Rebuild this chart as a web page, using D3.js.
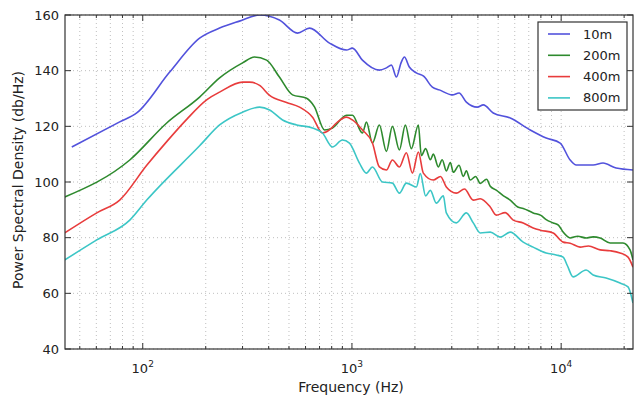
<!DOCTYPE html>
<html><head><meta charset="utf-8">
<script src="https://cdn.jsdelivr.net/npm/d3@7"></script>
<style>body{margin:0;background:#fff}svg{display:block}text{font-family:"DejaVu Sans",sans-serif;fill:#222}</style>
</head><body>
<svg id="c" width="634" height="399"></svg>
<script>
const seriesNames = ["10m","200m","400m","800m"];
const seriesColors = ["#5252dc","#2e8a2e","#e83c3c","#3cc6c6"];

const freq10m = [45.8,77.6,93.6,134.5,187,233,290,362,450,549,627,781,942,1005,1122,1352,1461,1544,1631,1720,1781,1880,2031,2200,2423,2616,3020,3250,3522,3975,4247,4735,5710,7115,8480,9890,11040,11800,14220,15860,18320,22050];
const psd10m  = [112.6,121.6,124.8,139.5,151.7,155.3,157.8,160,158.2,153.5,155.3,149.9,147.4,148.1,143.8,140.2,141,142,137.7,143,144.9,141.3,139.2,138,134.1,133.1,131.3,132,128.7,126.9,127.7,124.8,123,118.7,115.8,114,107.9,106.1,106.1,106.8,105,104.3];

const freq200m = [42.4,86.7,130.2,187,233,300,342,391,450,520,607,662,739,807,942,1005,1122,1173,1253,1352,1461,1561,1686,1800,1923,2077,2146,2250,2370,2449,2588,2700,2826,2953,3051,3250,3406,3522,3678,3900,4106,4400,4583,4895,5300,5710,6200,6585,7350,8000,8480,9158,9700,10220,11040,12000,13160,14220,15360,17140,19760,21350,22050];
const psd200m  = [94.6,107.9,121.2,130.5,137.4,142.8,144.9,143.8,137.7,131.3,130.1,127,118.7,119.4,124,124,117.6,121.5,114,120.5,111,120,111.5,120.5,112,120.5,109.5,112,108,110,105.4,108,104,107,103.5,106,102,104,100.7,102,99.5,101,98.5,97.1,95,93.5,91,90.5,88.9,88,86.5,85.3,84.5,82,79.9,80.5,79.9,80.3,79.9,78.1,78.1,75.6,72];

const freq400m = [42.4,60.3,77.6,104.5,130.2,162.2,202,233,300,324,362,404,487,562,648,723,781,843,942,1005,1122,1253,1352,1461,1561,1686,1820,1945,2077,2194,2449,2650,2826,3153,3450,3801,4106,4583,4895,5400,5901,6585,7350,7940,9158,10220,11040,12320,13500,15360,17140,19120,20880,22050];
const psd400m  = [81.7,88.9,93.5,106,114.5,122.5,129.5,132.3,135.9,135.9,134.7,131.1,128.6,126.9,123.3,117.6,118.7,121.2,123.3,122.3,118.7,114,105.4,104.3,107.9,105.4,110.5,103.2,110.8,103.2,100.7,102,98.2,96,97.5,93.5,94,91,88.1,89,86.3,85.3,83.5,82.7,81.7,78.4,78,76.6,77,75.6,75.3,74.5,73,69.4];

const freq800m = [42.4,60.3,86.7,104.5,187,233,300,362,404,466,544,648,723,807,901,973,1086,1173,1253,1398,1561,1686,1820,2031,2123,2250,2370,2531,2734,2826,3153,3522,3801,4106,4583,5115,5710,6585,7350,8480,9465,10220,10700,11410,13160,14220,16400,19120,20880,22050];
const psd800m  = [72,79.2,86.3,93.5,113,120.5,125.1,126.9,125.9,122.3,120.5,119.4,117.6,112.6,115.1,114,106.8,103.2,105.4,100,99.6,96,99.6,98.2,103,95,97,92.4,95,88.9,85.3,88.9,85.3,81.7,82,80.2,82,78.4,76.6,74.5,73.8,73,70,65.9,68.4,66.6,65.5,63.7,62.3,56.5];

const yTicks = [40,60,80,100,120,140,160];
const xMajor = [100,1000,10000];
const xMajorLabels = [["10","2"],["10","3"],["10","4"]];
const xDomain = [42.5,22050];
const yDomain = [40,160];

const svg = d3.select("#c");
const m = {l:65, r:633, t:15, b:349};
const x = d3.scaleLog().domain(xDomain).range([m.l, m.r]);
const y = d3.scaleLinear().domain(yDomain).range([m.b, m.t]);

const minor = [];
[10,100,1000,10000].forEach(d=>{for(let k=1;k<10;k++){const v=d*k; if(v>=xDomain[0]&&v<=xDomain[1]) minor.push(v);}});
const gGrid = svg.append("g");
gGrid.selectAll("line.v").data(minor).join("line")
  .attr("x1",d=>x(d)).attr("x2",d=>x(d)).attr("y1",m.t).attr("y2",m.b)
  .attr("stroke","#9a9a9a").attr("stroke-width",0.8).attr("stroke-dasharray","1,3").attr("opacity",0.8);
gGrid.selectAll("line.h").data(yTicks).join("line")
  .attr("x1",m.l).attr("x2",m.r).attr("y1",d=>y(d)).attr("y2",d=>y(d))
  .attr("stroke","#9a9a9a").attr("stroke-width",0.8).attr("stroke-dasharray","1,3").attr("opacity",0.8);

const data = [[freq10m,psd10m],[freq200m,psd200m],[freq400m,psd400m],[freq800m,psd800m]];
const line = d3.line().x(d=>x(d[0])).y(d=>y(d[1])).curve(d3.curveMonotoneX);
svg.append("clipPath").attr("id","cp").append("rect").attr("x",m.l).attr("y",m.t).attr("width",m.r-m.l).attr("height",m.b-m.t);
const gL = svg.append("g").attr("clip-path","url(#cp)");
data.forEach((s,i)=>{
  const pts = s[0].map((f,j)=>[f,s[1][j]]);
  gL.append("path").attr("d",line(pts)).attr("fill","none").attr("stroke",seriesColors[i]).attr("stroke-width",1.6).attr("stroke-linejoin","round");
});

svg.append("rect").attr("x",m.l).attr("y",m.t).attr("width",m.r-m.l).attr("height",m.b-m.t)
  .attr("fill","none").attr("stroke","#333").attr("stroke-width",1.2);

const gT = svg.append("g").attr("stroke","#333");
minor.forEach(v=>{
  const big = xMajor.includes(v);
  const len = big?6:3;
  gT.append("line").attr("x1",x(v)).attr("x2",x(v)).attr("y1",m.b).attr("y2",m.b-len);
  gT.append("line").attr("x1",x(v)).attr("x2",x(v)).attr("y1",m.t).attr("y2",m.t+len);
});
yTicks.forEach(v=>{
  gT.append("line").attr("x1",m.l).attr("x2",m.l+6).attr("y1",y(v)).attr("y2",y(v));
  gT.append("line").attr("x1",m.r).attr("x2",m.r-6).attr("y1",y(v)).attr("y2",y(v));
});

svg.selectAll("text.yt").data(yTicks).join("text").attr("class","yt")
  .attr("x",m.l-6).attr("y",d=>y(d)+4.5).attr("text-anchor","end").attr("font-size",13).text(d=>d);
xMajor.forEach((v,i)=>{
  const t = svg.append("text").attr("x",x(v)).attr("y",m.b+24).attr("text-anchor","middle").attr("font-size",13);
  t.append("tspan").text(xMajorLabels[i][0]);
  t.append("tspan").attr("dy",-6).attr("font-size",9).text(xMajorLabels[i][1]);
});
svg.append("text").attr("x",351).attr("y",392).attr("text-anchor","middle").attr("font-size",14).text("Frequency (Hz)");
svg.append("text").attr("transform","translate(23,180) rotate(-90)").attr("text-anchor","middle").attr("font-size",14).text("Power Spectral Density (db/Hz)");

const lg = svg.append("g");
lg.append("rect").attr("x",538).attr("y",22).attr("width",89).attr("height",88).attr("fill","#fff").attr("stroke","#333").attr("stroke-width",1.2);
seriesNames.forEach((n,i)=>{
  const yy = 34 + i*21.3;
  lg.append("line").attr("x1",548).attr("x2",570).attr("y1",yy).attr("y2",yy).attr("stroke",seriesColors[i]).attr("stroke-width",1.6);
  lg.append("text").attr("x",583).attr("y",yy+4.5).attr("font-size",13).text(n);
});
</script>
</body></html>
